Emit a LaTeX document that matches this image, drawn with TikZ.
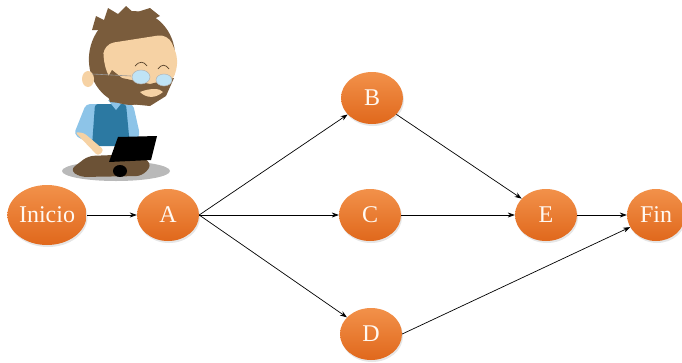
\documentclass[tikz,border=0pt]{standalone}
\usepackage{fontspec}
\setmainfont{Liberation Serif}
\usetikzlibrary{shapes.geometric,arrows.meta,shadows}
\definecolor{naranja}{HTML}{EE7A2E}
\definecolor{naranjaclaro}{HTML}{F2914A}
\definecolor{naranjaosc}{HTML}{E0681C}
\definecolor{pelo}{HTML}{7A5C3C}
\definecolor{piel}{HTML}{F6D2A4}
\definecolor{camisa}{HTML}{8DC4E8}
\definecolor{chaleco}{HTML}{2C79A2}
\definecolor{pantalon}{HTML}{6C5236}
\definecolor{lente}{HTML}{BFE3F5}
\tikzset{
  actividad/.style={ellipse, inner sep=0pt, minimum width=62pt, minimum height=52pt,
    top color=naranjaclaro, bottom color=naranjaosc, draw=none,
    drop shadow={opacity=0.2, shadow xshift=1pt, shadow yshift=-2pt},
    text=white!95!orange, font=\fontsize{24}{26}\selectfont},
  flecha/.style={-{Stealth[length=7pt,width=5pt]}, line width=0.7pt}
}
\begin{document}
\begin{tikzpicture}[x=1pt,y=-1pt]
  \useasboundingbox (0,0) rectangle (682,362);
  % el programador
  \fill[gray!55] (116,171) ellipse [x radius=54, y radius=10];
  \fill[pantalon, rounded corners=6pt] (70,170) -- (88,156) -- (140,154) -- (152,165) -- (142,176) -- (80,177) -- cycle;
  \fill[camisa, rounded corners=4pt] (86,104) -- (133,104) -- (140,135) -- (132,145) -- (82,140) -- (74,134) -- cycle;
  \fill[chaleco, rounded corners=3pt] (95,104) -- (126,104) -- (130,146) -- (92,146) -- cycle;
  \fill[piel, rounded corners=3pt] (75,132) -- (84,133) -- (104,150) -- (98,156) -- cycle;
  \fill[camisa] (108,100) -- (116,110) -- (124,100) -- cycle;
  \fill[pelo, rotate around={-10:(132,58)}] (132,58) ellipse [x radius=43, y radius=47];
  \fill[pelo] (92,30) -- (96,16) -- (104,20) -- (108,8) -- (118,14) -- (126,6) -- (134,13) -- (150,8) -- (160,16) -- (130,30) -- cycle;
  \fill[piel] (88,79) ellipse [x radius=6, y radius=8];
  \fill[piel, rounded corners=10pt] (104,44) -- (168,34) -- (179,60) -- (172,84) -- (112,84) -- (103,62) -- cycle;
  \fill[pelo] (104,84) -- (112,70) -- (122,78) -- (150,84) -- (174,78) -- (166,96) -- (150,106) -- (110,102) -- cycle;
  \fill[piel] (140,92) .. controls (150,88) and (160,88) .. (163,92) .. controls (155,99) and (146,98) .. (140,92);
  \draw[gray!80, line width=0.6pt] (92,74) -- (131,76);
  \draw[gray!60, fill=lente, line width=0.5pt] (141,77) ellipse [x radius=9, y radius=7];
  \draw[gray!60, fill=lente, line width=0.5pt] (164,80) ellipse [x radius=8, y radius=6];
  \draw[pelo!70!black, line width=0.7pt] (135,66) .. controls (139,61) and (144,61) .. (147,66);
  \draw[pelo!70!black, line width=0.7pt] (158,69) .. controls (161,64) and (166,64) .. (169,69);
  \fill[black] (118,137) -- (157,136) -- (151,160) -- (109,162) -- cycle;
  \fill[black] (120,171) ellipse [x radius=7, y radius=6];
  % red de actividades
  \node[actividad, minimum width=70pt, minimum height=60pt] (inicio) at (47,215) {Inicio};
  \node[actividad] (A) at (168,215) {A};
  \node[actividad] (B) at (372,98) {B};
  \node[actividad] (C) at (370,215) {C};
  \node[actividad] (D) at (371,334) {D};
  \node[actividad] (E) at (546,215) {E};
  \node[actividad, minimum width=58pt] (fin) at (656,215) {Fin};
  \begin{scope}[flecha]
    \draw (inicio) -- (A);
    \draw (A.east) -- (B);
    \draw (A.east) -- (C);
    \draw (A.east) -- (D);
    \draw (B) -- (E);
    \draw (C) -- (E);
    \draw (D.east) -- (fin);
    \draw (E) -- (fin);
  \end{scope}
\end{tikzpicture}
\end{document}
